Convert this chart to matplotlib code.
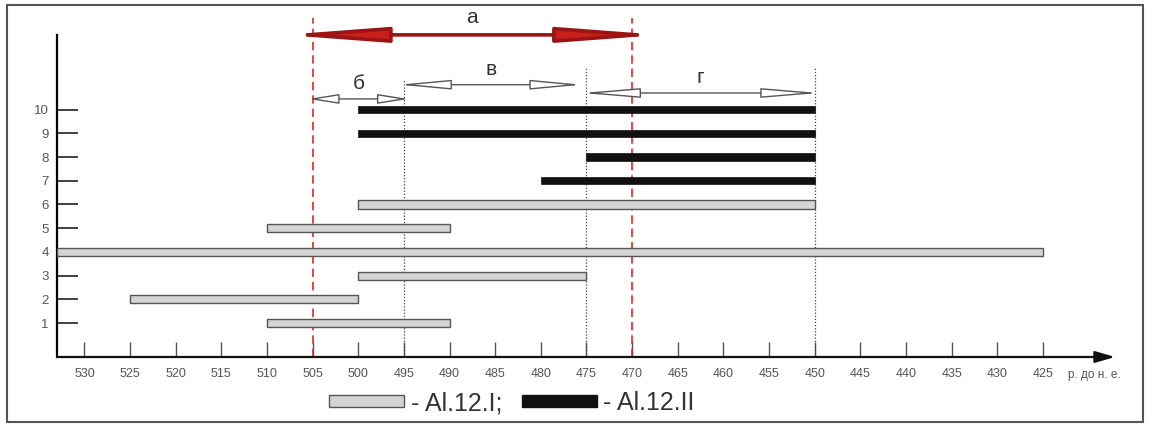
import numpy as np
import matplotlib
matplotlib.use("Agg")
import matplotlib.pyplot as plt
from matplotlib.patches import Rectangle, Patch

plt.rcParams["font.family"] = ["Liberation Sans", "DejaVu Sans"]

# ── дані ──────────────────────────────────────
rows      = [1, 2, 3, 4, 5, 6, 7, 8, 9, 10]
starts    = [510, 525, 500, 533, 510, 500, 480, 475, 500, 500]
ends      = [490, 500, 475, 425, 490, 450, 450, 450, 450, 450]
groups    = ["I", "I", "I", "I", "I", "I", "II", "II", "II", "II"]
xticks    = list(range(530, 424, -5))
red_lines = [505, 470]
dot_lines = [495, 475, 450]
dot_tops  = [11.25, 11.8, 11.8]

# інтервали (стрілки): мітка, від, до, рівень, довжина вістря
spans = [("а", 505, 470, 13.15, 6.0), ("б", 505, 495, 10.45, 1.9),
         ("в", 495, 476, 11.05, 3.2), ("г", 475, 450, 10.7, 3.6)]

X_LEFT, X_RIGHT = 533, 417.1
Y_BOT, Y_TOP = -0.43, 14.2

fig = plt.figure(figsize=(11.5, 4.3), dpi=100)
ax = fig.add_axes([0.0496, 0.1698, 0.92, 0.807])
ax.set_xlim(X_LEFT, X_RIGHT)
ax.set_ylim(Y_BOT, Y_TOP)

# ── смуги ─────────────────────────────────────
for r, s, e, g in zip(rows, starts, ends, groups):
    if g == "I":
        ax.barh(r, s - e, left=e, height=0.34, color="#d4d4d4",
                edgecolor="#555555", linewidth=1.0, zorder=3)
    else:
        ax.barh(r, s - e, left=e, height=0.30, color="#111111",
                edgecolor="#111111", linewidth=0.5, zorder=3)

# ── вертикальні лінії ─────────────────────────
ax.vlines(red_lines, Y_BOT, 13.87, colors="#d62a2a", linestyles=(0, (5, 3)),
          linewidth=1.2, zorder=2)
ax.vlines(dot_lines, Y_BOT, dot_tops, colors="#444444", linestyles=(0, (1, 1.5)),
          linewidth=0.9, zorder=2)

# ── стрілки інтервалів ────────────────────────
# вісь x перевернута: більші роки ліворуч
for lab, x0, x1, lvl, hl in spans:
    if lab == "а":
        # вістря товсті — подовжуємо, щоб кінці сягали червоних ліній
        ax.annotate("", xy=(x1 - 3.2, lvl), xytext=(x0 + 3.2, lvl),
                    arrowprops=dict(arrowstyle=f"<|-|>,head_length={hl},head_width=0.45",
                                    fc="#c81e1e", ec="#9a1414", lw=2.6,
                                    shrinkA=0, shrinkB=0))
        ax.text((x0 + x1) / 2, lvl + 0.35, lab, ha="center", va="bottom",
                fontsize=15, color="#333333")
    else:
        ax.annotate("", xy=(x1 - 0.5, lvl), xytext=(x0 + 0.5, lvl),
                    arrowprops=dict(arrowstyle=f"<|-|>,head_length={hl},head_width=0.3",
                                    fc="white", ec="#555555", lw=1.0,
                                    shrinkA=0, shrinkB=0))
        ax.text((x0 + x1) / 2, lvl + 0.25, lab, ha="center", va="bottom",
                fontsize=15, color="#333333")

# ── осі ───────────────────────────────────────
for side in ["top", "right", "bottom"]:
    ax.spines[side].set_visible(False)
ax.spines["left"].set_bounds(Y_BOT, 13.15)
ax.spines["left"].set_linewidth(1.6)
ax.annotate("", xy=(X_RIGHT, Y_BOT), xytext=(X_LEFT, Y_BOT),
            arrowprops=dict(arrowstyle="-|>,head_length=1.2,head_width=0.35",
                            fc="#111111", ec="#111111", lw=1.6,
                            shrinkA=0, shrinkB=0),
            annotation_clip=False)

ax.set_xticks(xticks)
ax.set_xticklabels([str(t) for t in xticks])
ax.set_yticks(rows)
ax.set_yticklabels([str(r) for r in rows])
ax.tick_params(axis="x", direction="in", length=11, width=1.0, color="#555555",
               labelsize=9, labelcolor="#555555", pad=8)
ax.tick_params(axis="y", direction="in", length=15, width=1.3, color="#333333",
               labelsize=9.5, labelcolor="#555555", pad=6)

ax.text(422.3, Y_BOT - 0.75, "р. до н. е.", ha="left", va="center",
        fontsize=8.5, color="#555555")

# ── легенда ───────────────────────────────────
handles = [Patch(facecolor="#d4d4d4", edgecolor="#555555", linewidth=1.0),
           Patch(facecolor="#111111", edgecolor="#111111")]
fig.legend(handles, ["- Al.12.I;", "- Al.12.II"], ncol=2, frameon=False,
           loc="center", bbox_to_anchor=(512 / 1150, 1 - 403 / 430),
           fontsize=18, handlelength=3.0, handleheight=0.35,
           columnspacing=0.8, handletextpad=0.25, labelcolor="#333333")

# рамка
fig.patches.append(Rectangle((7 / 1150, 8 / 430), 1136 / 1150, 417 / 430,
                             transform=fig.transFigure, fill=False,
                             edgecolor="#555555", linewidth=1.5))

fig.savefig("out.png", dpi=100)
